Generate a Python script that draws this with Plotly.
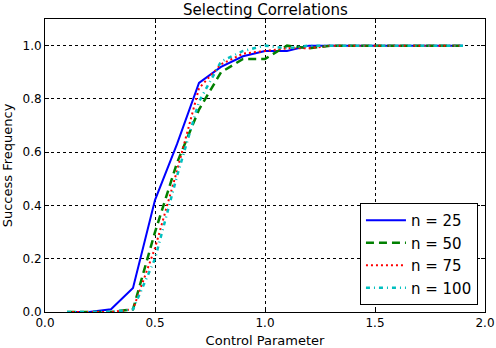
import plotly.graph_objects as go

control = [0.1, 0.2, 0.3, 0.4, 0.5, 0.6, 0.7, 0.8, 0.9, 1.0,
           1.1, 1.2, 1.3, 1.4, 1.5, 1.6, 1.7, 1.8, 1.9]

n25 = [0.0, 0.0, 0.01, 0.09, 0.42, 0.63, 0.86, 0.92, 0.96, 0.98,
       0.98, 1.0, 1.0, 1.0, 1.0, 1.0, 1.0, 1.0, 1.0]
n50 = [0.0, 0.0, 0.0, 0.01, 0.30, 0.56, 0.76, 0.90, 0.95, 0.95,
       1.0, 0.99, 1.0, 1.0, 1.0, 1.0, 1.0, 1.0, 1.0]
n75 = [0.0, 0.0, 0.0, 0.01, 0.24, 0.53, 0.84, 0.93, 0.97, 0.98,
       0.99, 0.99, 1.0, 1.0, 1.0, 1.0, 1.0, 1.0, 1.0]
n100 = [0.0, 0.0, 0.0, 0.01, 0.20, 0.51, 0.79, 0.94, 0.98, 1.0,
        0.99, 1.0, 1.0, 1.0, 1.0, 1.0, 1.0, 1.0, 1.0]

series = [
    ('n = 25', n25, '#0000ff', 'solid', 2),
    ('n = 50', n50, '#008000', '8px,5px', 2.5),
    ('n = 75', n75, '#ff0000', '2px,3px', 2),
    ('n = 100', n100, '#00bfbf', '4px,4px,1px,4px', 2.5),
]

fig = go.Figure()
for name, vals, color, dash, w in series:
    fig.add_trace(go.Scatter(x=control, y=vals, mode='lines', name=name,
                             line=dict(color=color, dash=dash, width=w)))

axis_style = dict(showline=True, linecolor='black', linewidth=1, mirror='ticks',
                  ticks='inside', ticklen=4, tickcolor='black',
                  showgrid=True, gridcolor='black', griddash='dot', gridwidth=1,
                  zeroline=False, automargin=False,
                  tickfont=dict(size=12, color='black'))

fig.update_xaxes(range=[0, 2.0], dtick=0.5, tickformat='.1f',
                 title=dict(text='Control Parameter', font=dict(size=13, color='black'), standoff=11),
                 **axis_style)
fig.update_yaxes(range=[0, 1.1], dtick=0.2, tickformat='.1f',
                 title=dict(text='Success Frequency', font=dict(size=13, color='black'), standoff=11),
                 **axis_style)

fig.update_layout(
    width=496, height=348,
    margin=dict(l=45, r=11, t=19, b=36),
    plot_bgcolor='white', paper_bgcolor='white',
    font=dict(family='DejaVu Sans', color='black'),
    title=dict(text='Selecting Correlations', x=0.535, xanchor='center',
               y=0.988, yanchor='top', font=dict(size=15, color='black')),
    legend=dict(x=0.984, y=0.024, xanchor='right', yanchor='bottom',
                bordercolor='black', borderwidth=1, bgcolor='white',
                font=dict(size=15, color='black'), itemwidth=40),
    showlegend=True,
)

# drop the default page margin so the figure sits at the top-left corner
fig.write_html("out.html", config={'displayModeBar': False},
               post_script="document.body.style.margin='0';")
